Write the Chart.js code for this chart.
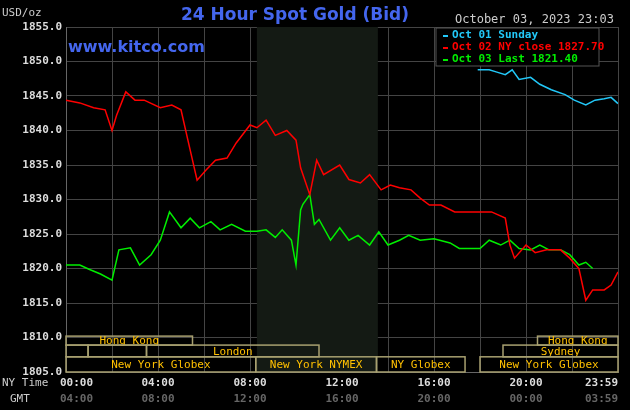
<!DOCTYPE html>
<html>
<head>
<meta charset="utf-8">
<script src="https://cdn.jsdelivr.net/npm/chart.js@4"></script>
<style>
  body { margin: 0; background: #000; }
  #wrap { width: 630px; height: 410px; }
</style>
</head>
<body>
<div id="wrap"><canvas id="gold"></canvas></div>
<script>
// hours since 00:00 NY time, prices in USD/oz
const oct02Hours = [0, 0.6, 1.2, 1.7, 2, 2.2, 2.6, 3, 3.4, 4.1, 4.6, 5, 5.3, 5.7, 6.1, 6.5, 7, 7.4, 8, 8.3, 8.7, 9.1, 9.6, 10, 10.2, 10.6, 10.9, 11.2, 11.9, 12.3, 12.8, 13.2, 13.7, 14.1, 14.5, 15, 15.4, 15.8, 16.3, 16.9, 17.6, 18.5, 19.1, 19.3, 19.5, 20, 20.4, 20.9, 21.5, 21.9, 22.3, 22.6, 22.9, 23.4, 23.7, 24];
const oct02Close = [1844.4, 1844, 1843.3, 1843, 1840, 1842.2, 1845.6, 1844.4, 1844.4, 1843.3, 1843.7, 1843, 1838.6, 1832.8, 1834.3, 1835.7, 1836, 1838.2, 1840.8, 1840.4, 1841.5, 1839.3, 1840, 1838.6, 1834.6, 1830.7, 1835.7, 1833.6, 1835, 1832.9, 1832.4, 1833.6, 1831.4, 1832.1, 1831.7, 1831.4, 1830.2, 1829.2, 1829.2, 1828.2, 1828.2, 1828.2, 1827.3, 1823.4, 1821.5, 1823.4, 1822.3, 1822.7, 1822.7, 1821.5, 1820, 1815.4, 1816.9, 1816.9, 1817.6, 1819.5];

const oct03Hours = [0, 0.6, 1, 1.5, 2, 2.3, 2.8, 3.2, 3.7, 4.1, 4.5, 5, 5.4, 5.8, 6.3, 6.7, 7.2, 7.8, 8.3, 8.7, 9.1, 9.4, 9.8, 10, 10.2, 10.3, 10.6, 10.8, 11, 11.5, 11.9, 12.3, 12.7, 13.2, 13.6, 14, 14.5, 14.9, 15.4, 16, 16.7, 17.1, 18, 18.4, 18.9, 19.3, 19.7, 20.2, 20.6, 21, 21.5, 21.9, 22.3, 22.6, 22.9];
const oct03Last = [1820.5, 1820.5, 1819.9, 1819.2, 1818.3, 1822.7, 1823, 1820.5, 1822, 1824.1, 1828.2, 1825.9, 1827.3, 1825.9, 1826.8, 1825.6, 1826.4, 1825.4, 1825.4, 1825.6, 1824.5, 1825.6, 1824.1, 1820.5, 1828.5, 1829.3, 1830.7, 1826.4, 1827.1, 1824.1, 1825.9, 1824.1, 1824.8, 1823.4, 1825.3, 1823.4, 1824.1, 1824.8, 1824.1, 1824.3, 1823.7, 1822.9, 1822.9, 1824.1, 1823.4, 1824.1, 1822.9, 1822.7, 1823.4, 1822.7, 1822.7, 1822, 1820.5, 1820.9, 1820];

const oct01Hours = [17.9, 18.4, 18.7, 19.1, 19.4, 19.7, 20.2, 20.6, 21.1, 21.7, 22.1, 22.6, 23, 23.4, 23.7, 24];
const oct01Sunday = [1848.8, 1848.8, 1848.5, 1848.1, 1848.8, 1847.4, 1847.7, 1846.7, 1845.9, 1845.2, 1844.4, 1843.7, 1844.4, 1844.6, 1844.8, 1843.9];

const yTicks = [1805, 1810, 1815, 1820, 1825, 1830, 1835, 1840, 1845, 1850, 1855];
const nyLabels = ['00:00', '04:00', '08:00', '12:00', '16:00', '20:00', '23:59'];
const gmtLabels = ['04:00', '08:00', '12:00', '16:00', '20:00', '00:00', '03:59'];
const labelHours = [0, 4, 8, 12, 16, 20, 24];

// [row, start hour, end hour, label]; row 0 = top
const sessions = [
  [0, 0, 5.5, 'Hong Kong'], [0, 20.5, 24, 'Hong Kong'],
  [1, 0, 0.96, ''], [1, 0.96, 3.5, ''], [1, 3.5, 11, 'London'], [1, 19, 24, 'Sydney'],
  [2, 0, 8.25, 'New York Globex'], [2, 8.25, 13.5, 'New York NYMEX'],
  [2, 13.5, 17.35, 'NY Globex'], [2, 18, 24, 'New York Globex']
];
const rowEdges = [1810.2, 1808.9, 1807.2, 1805];

const mono = '"DejaVu Sans Mono", monospace';

const pairs = (xs, ys) => xs.map((x, i) => ({ x: x, y: ys[i] }));

const decorations = {
  id: 'decorations',
  beforeDatasetsDraw(chart) {
    const { ctx, chartArea: a, scales: { x } } = chart;
    ctx.save();
    ctx.fillStyle = '#141a14';
    ctx.fillRect(x.getPixelForValue(8.3), a.top, x.getPixelForValue(13.56) - x.getPixelForValue(8.3), a.bottom - a.top);
    ctx.restore();
  },
  afterDraw(chart) {
    const { ctx, chartArea: a, scales: { x, y } } = chart;
    ctx.save();
    // session boxes
    ctx.strokeStyle = '#a8a070';
    ctx.lineWidth = 1.5;
    ctx.font = '11px ' + mono;
    ctx.textAlign = 'center';
    ctx.textBaseline = 'middle';
    sessions.forEach(([row, s, e, label]) => {
      const x0 = x.getPixelForValue(s), x1 = x.getPixelForValue(e);
      const y0 = y.getPixelForValue(rowEdges[row]), y1 = y.getPixelForValue(rowEdges[row + 1]);
      ctx.strokeRect(x0, y0, x1 - x0, y1 - y0);
      ctx.fillStyle = '#ffc000';
      if (label) ctx.fillText(label, (x0 + x1) / 2, (y0 + y1) / 2 + 1);
    });
    // time labels
    ctx.font = 'bold 11px ' + mono;
    labelHours.forEach((h, i) => {
      const px = x.getPixelForValue(h);
      const align = i === labelHours.length - 1 ? 'right' : (i === 0 ? 'left' : 'center');
      const off = i === 0 ? -6 : 0;
      ctx.textAlign = align;
      ctx.fillStyle = '#dddddd';
      ctx.fillText(nyLabels[i], px + off, 383);
      ctx.fillStyle = '#666666';
      ctx.fillText(gmtLabels[i], px + off, 399);
    });
    ctx.font = '11px ' + mono;
    ctx.textAlign = 'left';
    ctx.fillStyle = '#cccccc';
    ctx.fillText('NY Time', 2, 383);
    ctx.fillText('GMT', 10, 399);
    // headers
    ctx.fillText('USD/oz', 2, 13);
    ctx.font = 'bold 17px "DejaVu Sans", sans-serif';
    ctx.fillStyle = '#4466ee';
    ctx.textAlign = 'center';
    ctx.fillText('24 Hour Spot Gold (Bid)', 295, 16);
    ctx.font = 'bold 16px "DejaVu Sans", sans-serif';
    ctx.textAlign = 'left';
    ctx.fillText('www.kitco.com', 68, 48);
    ctx.font = '12px ' + mono;
    ctx.fillStyle = '#cccccc';
    ctx.fillText('October 03, 2023 23:03', 455, 20);
    // legend
    ctx.fillStyle = '#000';
    ctx.fillRect(436, 28, 163, 38);
    ctx.strokeStyle = '#555';
    ctx.lineWidth = 1;
    ctx.strokeRect(436, 28, 163, 38);
    ctx.font = 'bold 11px ' + mono;
    [['Oct 01 Sunday', '#22c8f8'], ['Oct 02 NY close 1827.70', '#ff0000'], ['Oct 03 Last 1821.40', '#00ee00']].forEach(([t, c], i) => {
      ctx.fillStyle = c;
      ctx.fillRect(443, 35 + i * 12, 5, 2);
      ctx.fillText(t, 452, 35 + i * 12);
    });
    ctx.restore();
  }
};

new Chart(document.getElementById('gold'), {
  type: 'line',
  data: {
    datasets: [
      { label: 'Oct 01 Sunday', data: pairs(oct01Hours, oct01Sunday), borderColor: '#22c8f8' },
      { label: 'Oct 02 NY close', data: pairs(oct02Hours, oct02Close), borderColor: '#ff0000' },
      { label: 'Oct 03 Last', data: pairs(oct03Hours, oct03Last), borderColor: '#00ee00' }
    ]
  },
  options: {
    responsive: true,
    maintainAspectRatio: false,
    animation: false,
    layout: { padding: { top: 27, right: 12, left: 0, bottom: 0 } },
    elements: { point: { radius: 0 }, line: { borderWidth: 1.5, tension: 0 } },
    plugins: { legend: { display: false }, tooltip: { enabled: false } },
    scales: {
      x: {
        type: 'linear', min: 0, max: 24,
        ticks: { stepSize: 2, display: false },
        grid: { color: '#444', drawTicks: false },
        border: { color: '#666' },
        afterFit: s => { s.height = 38; }
      },
      y: {
        min: 1805, max: 1855,
        afterBuildTicks: s => { s.ticks = yTicks.map(v => ({ value: v })); },
        ticks: {
          color: '#dddddd', padding: 4,
          font: { family: mono, size: 11, weight: 'bold' },
          callback: v => v.toFixed(1)
        },
        grid: { color: '#444', drawTicks: false },
        border: { color: '#666' },
        afterFit: s => { s.width = 66; }
      }
    }
  },
  plugins: [decorations]
});
</script>
</body>
</html>
